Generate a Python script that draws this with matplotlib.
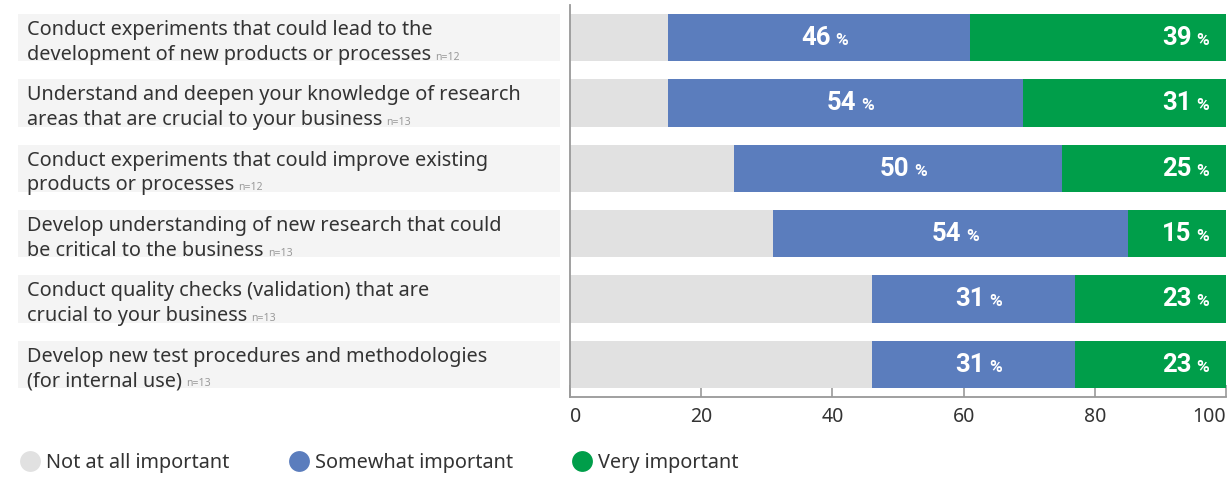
import matplotlib.pyplot as plt
from matplotlib.lines import Line2D

# data
labels = [
    ("Conduct experiments that could lead to the", "development of new products or processes"),
    ("Understand and deepen your knowledge of research", "areas that are crucial to your business"),
    ("Conduct experiments that could improve existing", "products or processes"),
    ("Develop understanding of new research that could", "be critical to the business"),
    ("Conduct quality checks (validation) that are", "crucial to your business"),
    ("Develop new test procedures and methodologies", "(for internal use)"),
]
n_resp = [12, 13, 12, 13, 13, 13]
somewhat = [46, 54, 50, 54, 31, 31]
very = [39, 31, 25, 15, 23, 23]
not_at_all = [100 - s - v for s, v in zip(somewhat, very)]

series_names = ["Not at all important", "Somewhat important", "Very important"]
colors = ["#e1e1e1", "#5b7dbd", "#009e4a"]
x_ticks = [0, 20, 40, 60, 80, 100]

plt.rcParams['font.family'] = ['Noto Sans', 'DejaVu Sans']
text_col = "#333333"
num_font = ['Roboto', 'DejaVu Sans']

W, H = 1229, 478
fig = plt.figure(figsize=(W / 100, H / 100), dpi=100)

ax_bottom = 1 - 397 / H
ax_height = (397 - 5) / H
ax = fig.add_axes([570 / W, ax_bottom, (1226 - 570) / W, ax_height])
ax_lab = fig.add_axes([18 / W, ax_bottom, (560 - 18) / W, ax_height])

y = list(range(len(labels)))
bar_h = 0.72

# stacked bars
left = [0] * len(y)
for vals, col in zip([not_at_all, somewhat, very], colors):
    ax.barh(y, vals, left=left, height=bar_h, color=col, edgecolor='none', zorder=2)
    left = [l + v for l, v in zip(left, vals)]

ax.set_xlim(0, 100)
ax.set_ylim(len(y) - 0.5, -0.5)
ax.set_yticks([])
ax.set_xticks(x_ticks)
ax.set_xticklabels([str(t) for t in x_ticks], fontsize=14, color=text_col)
tl = ax.get_xticklabels()
tl[0].set_ha('left')
tl[-1].set_ha('right')
ax.tick_params(axis='x', direction='in', length=9, width=1.2, color='#999999', pad=7)
for s in ['top', 'right']:
    ax.spines[s].set_visible(False)
for s in ['left', 'bottom']:
    ax.spines[s].set_color('#999999')
    ax.spines[s].set_linewidth(1.3)

num_fs, pct_fs = 18.5, 12.5
base_off = 0.11


def value_label(x, yy, val, mode):
    kw = dict(textcoords='offset points', va='baseline', fontweight='bold', color='white',
              zorder=3, family=num_font)
    if mode == 'right':
        pct = ax.annotate('%', xy=(x, yy + base_off), xytext=(-12, 0), ha='right', fontsize=pct_fs, **kw)
        ax.annotate(str(val), xy=(0, yy + base_off), xycoords=(pct, 'data'), xytext=(-3.5, 0),
                    ha='right', fontsize=num_fs, **kw)
    else:
        num = ax.annotate(str(val), xy=(x, yy + base_off), xytext=(8, 0), ha='right', fontsize=num_fs, **kw)
        ax.annotate('%', xy=(1, yy + base_off), xycoords=(num, 'data'), xytext=(3.5, 0),
                    ha='left', fontsize=pct_fs, **kw)


for i in y:
    value_label(not_at_all[i] + somewhat[i] / 2, i, somewhat[i], 'center')
    value_label(100, i, very[i], 'right')

# category labels with background
ax_lab.barh(y, [1] * len(y), left=0, height=bar_h, color="#f4f4f4", edgecolor='none')
ax_lab.set_xlim(0, 1)
ax_lab.set_ylim(len(y) - 0.5, -0.5)
ax_lab.axis('off')
tx = (27 - 18) / (560 - 18)
for i, (l1, l2) in enumerate(labels):
    ax_lab.text(tx, i - 0.04, l1, fontsize=14.3, color=text_col, va='baseline', ha='left')
    t2 = ax_lab.text(tx, i + 0.335, l2, fontsize=14.3, color=text_col, va='baseline', ha='left')
    ax_lab.annotate(f"n={n_resp[i]}", xy=(1, i + 0.335), xycoords=(t2, 'data'), xytext=(3, 0),
                    textcoords='offset points', ha='left', va='baseline', fontsize=7.5, color='#999999')

# legend
handles = [Line2D([], [], marker='o', linestyle='none', markersize=15, markerfacecolor=c,
                  markeredgecolor='none') for c in colors]
fig.legend(handles, series_names, loc='center left', bbox_to_anchor=(10 / W, 1 - 463 / H),
           ncol=3, frameon=False, fontsize=14.3, labelcolor=text_col, handlelength=1.0,
           handletextpad=0.3, columnspacing=3.0, borderpad=0)

fig.savefig("out.png", dpi=100)
